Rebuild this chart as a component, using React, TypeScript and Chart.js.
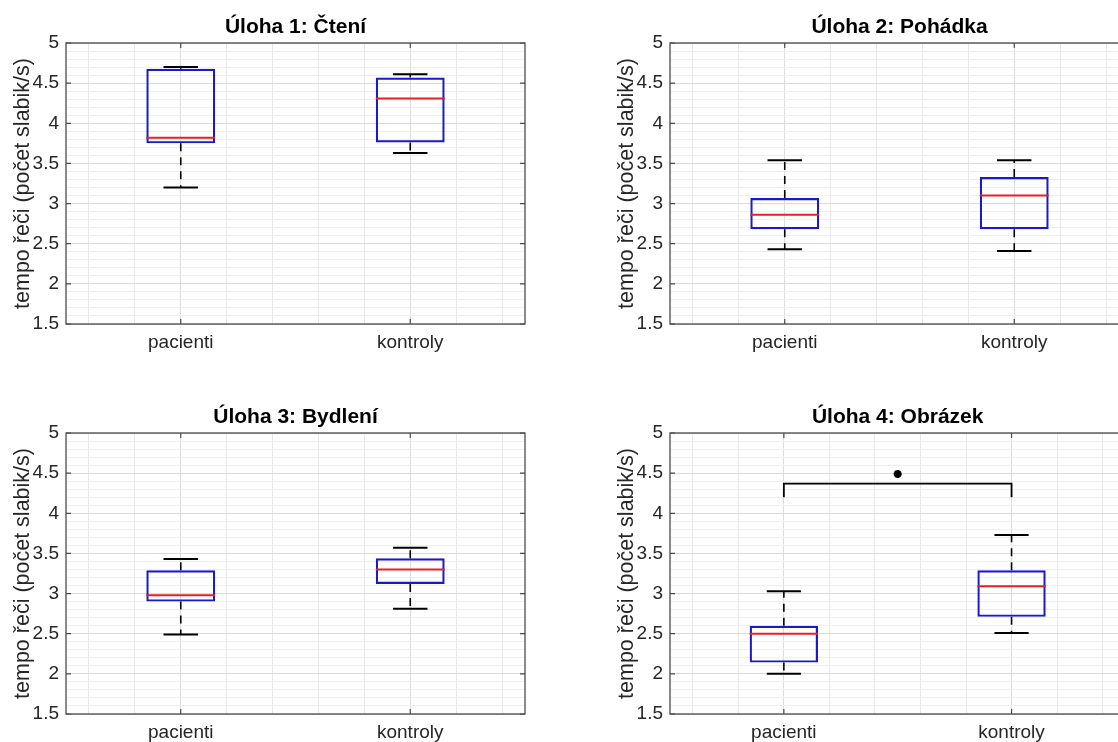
import React, { useEffect, useRef } from 'react';
import { Chart, registerables } from 'chart.js';

Chart.register(...registerables);

// ---------------- data ----------------
const groups = ['pacienti', 'kontroly'];
const groupPos = [1, 2];
const taskTitles = ['Úloha 1: Čtení', 'Úloha 2: Pohádka', 'Úloha 3: Bydlení', 'Úloha 4: Obrázek'];
const yAxisTitle = 'tempo řeči (počet slabik/s)';

// per task: [pacienti, kontroly]
const whiskerLow = [[3.2, 3.63], [2.43, 2.41], [2.49, 2.81], [2.0, 2.51]];
const quartile1 = [[3.75, 3.76], [2.68, 2.68], [2.9, 3.12], [2.14, 2.71]];
const medians = [[3.82, 4.31], [2.86, 3.1], [2.98, 3.3], [2.5, 3.09]];
const quartile3 = [[4.68, 4.57], [3.07, 3.33], [3.29, 3.44], [2.6, 3.29]];
const whiskerHigh = [[4.7, 4.61], [3.54, 3.54], [3.43, 3.57], [3.03, 3.73]];

// significance bracket (task 4)
const sigTask = 3;
const sigPair = [1, 2];
const sigLegY = 4.2;
const sigBarY = 4.37;
const sigStarY = 4.49;

const yMajorTicks = [1.5, 2, 2.5, 3, 3.5, 4, 4.5, 5];
const yTickLabels = ['1.5', '2', '2.5', '3', '3.5', '4', '4.5', '5'];
const xGridValues = [0.6, 0.8, 1.0, 1.2, 1.4, 1.6, 1.8, 2.0, 2.2, 2.4];

// ---------------- style ----------------
const BOX_HALF = 0.15;
const CAP_HALF = 0.075;
const BLUE = 'rgb(25,25,205)';
const RED = 'rgb(225,35,35)';
const AXIS = '#262626';
const FONT = "'Liberation Sans', Arial, Helvetica, sans-serif";

const panels = [
  { left: 0, top: 0, height: 380 },
  { left: 604, top: 0, height: 380 },
  { left: 0, top: 390, height: 352 },
  { left: 604, top: 390, height: 352 },
];
const CANVAS_W = 528;
const AREA_BOTTOM = 324;

const isMajor = (v: number) => yMajorTicks.some((m) => Math.abs(m - v) < 1e-6);
const tickVal = (ctx: any) => (ctx && ctx.tick ? Number(ctx.tick.value) : NaN);

const framePlugin = {
  id: 'frame',
  afterDraw(chart: any) {
    const { ctx, chartArea: a, scales } = chart;
    ctx.save();
    ctx.strokeStyle = '#4a4a4a';
    ctx.lineWidth = 1.3;
    ctx.strokeRect(a.left, a.top, a.right - a.left, a.bottom - a.top);
    ctx.lineWidth = 1.2;
    ctx.beginPath();
    yMajorTicks.forEach((v) => {
      const p = scales.y.getPixelForValue(v);
      ctx.moveTo(a.left, p);
      ctx.lineTo(a.left + 5, p);
      ctx.moveTo(a.right, p);
      ctx.lineTo(a.right - 5, p);
    });
    groups.forEach((_, i) => {
      const p = scales.x.getPixelForValue(i);
      ctx.moveTo(p, a.bottom);
      ctx.lineTo(p, a.bottom - 5);
      ctx.moveTo(p, a.top);
      ctx.lineTo(p, a.top + 5);
    });
    ctx.stroke();
    ctx.restore();
  },
};

function buildConfig(t: number, canvasHeight: number): any {
  const whiskerData: any[] = [];
  const capData: any[] = [];
  const medianData: any[] = [];
  groupPos.forEach((x, g) => {
    whiskerData.push(
      { x, y: quartile3[t][g] }, { x, y: whiskerHigh[t][g] }, { x, y: null },
      { x, y: quartile1[t][g] }, { x, y: whiskerLow[t][g] }, { x, y: null }
    );
    capData.push(
      { x: x - CAP_HALF, y: whiskerHigh[t][g] }, { x: x + CAP_HALF, y: whiskerHigh[t][g] }, { x, y: null },
      { x: x - CAP_HALF, y: whiskerLow[t][g] }, { x: x + CAP_HALF, y: whiskerLow[t][g] }, { x, y: null }
    );
    medianData.push(
      { x: x - BOX_HALF, y: medians[t][g] }, { x: x + BOX_HALF, y: medians[t][g] }, { x, y: null }
    );
  });

  const lineBase = {
    type: 'line',
    xAxisID: 'x2',
    yAxisID: 'y',
    pointRadius: 0,
    pointHoverRadius: 0,
    spanGaps: false,
    tension: 0,
    fill: false,
  };

  const datasets: any[] = [
    { ...lineBase, label: 'whiskers', data: whiskerData, borderColor: '#000', borderWidth: 1.6, borderDash: [8, 6], order: 5 },
    { ...lineBase, label: 'caps', data: capData, borderColor: '#000', borderWidth: 2, order: 4 },
    {
      type: 'bar',
      label: 'box',
      xAxisID: 'x',
      yAxisID: 'y',
      data: groups.map((_, g) => [quartile1[t][g], quartile3[t][g]]),
      backgroundColor: 'rgba(255,255,255,0)',
      borderColor: BLUE,
      borderWidth: 2.2,
      borderSkipped: false,
      grouped: false,
      barPercentage: BOX_HALF * 2,
      categoryPercentage: 1,
      order: 3,
    },
    { ...lineBase, label: 'median', data: medianData, borderColor: RED, borderWidth: 2, order: 2 },
  ];

  if (t === sigTask) {
    datasets.push({
      ...lineBase,
      label: 'bracket',
      data: [
        { x: sigPair[0], y: sigLegY },
        { x: sigPair[0], y: sigBarY },
        { x: sigPair[1], y: sigBarY },
        { x: sigPair[1], y: sigLegY },
      ],
      borderColor: '#000',
      borderWidth: 1.8,
      order: 1,
    });
    datasets.push({
      ...lineBase,
      label: 'star',
      showLine: false,
      data: [{ x: (sigPair[0] + sigPair[1]) / 2, y: sigStarY }],
      pointStyle: 'star',
      pointRadius: 4,
      pointBorderWidth: 2.6,
      pointBorderColor: '#000',
      pointBackgroundColor: '#000',
      order: 0,
    });
  }

  return {
    type: 'bar',
    data: { labels: groups, datasets },
    plugins: [framePlugin],
    options: {
      animation: false,
      responsive: false,
      devicePixelRatio: 1,
      layout: { padding: { left: 0, right: 3, top: 0, bottom: 0 } },
      font: { family: FONT },
      plugins: {
        legend: { display: false },
        tooltip: { enabled: false },
        title: {
          display: true,
          fullSize: false,
          text: taskTitles[t],
          color: '#000',
          font: { family: FONT, size: 21, weight: 'bold', lineHeight: 1.2 },
          padding: { top: 15, bottom: 2.8 },
        },
      },
      scales: {
        x: {
          type: 'category',
          labels: groups,
          offset: true,
          position: 'bottom',
          grid: { display: false, drawTicks: false },
          border: { display: false },
          ticks: { color: AXIS, font: { family: FONT, size: 19, lineHeight: 1.2 }, padding: 7, maxRotation: 0, autoSkip: false },
          afterFit: (s: any) => { s.height = canvasHeight - AREA_BOTTOM; },
        },
        x2: {
          type: 'linear',
          position: 'bottom',
          min: 0.5,
          max: 2.5,
          offset: false,
          display: true,
          ticks: { display: false },
          grid: {
            offset: false,
            drawTicks: false,
            color: (ctx: any) => {
              const v = tickVal(ctx);
              return groupPos.some((p) => Math.abs(p - v) < 1e-6) ? '#dcdcdc' : '#e8e8e8';
            },
            lineWidth: 1,
          },
          border: { display: false },
          afterBuildTicks: (s: any) => { s.ticks = xGridValues.map((value) => ({ value })); },
          afterFit: (s: any) => { s.height = 0; },
        },
        y: {
          type: 'linear',
          min: 1.5,
          max: 5,
          grid: {
            drawTicks: false,
            color: (ctx: any) => (isMajor(tickVal(ctx)) ? '#dadada' : '#efefef'),
            lineWidth: 1,
          },
          border: { display: false },
          ticks: {
            stepSize: 0.1,
            maxTicksLimit: 60,
            autoSkip: false,
            padding: 7,
            color: AXIS,
            font: { family: FONT, size: 19, lineHeight: 1.2 },
            callback: (value: any) => {
              const i = yMajorTicks.findIndex((m) => Math.abs(m - Number(value)) < 1e-6);
              return i >= 0 ? yTickLabels[i] : '';
            },
          },
          title: {
            display: true,
            text: yAxisTitle,
            color: AXIS,
            font: { family: FONT, size: 21.5, lineHeight: 1.2 },
            padding: { top: 10, bottom: 0 },
          },
          afterFit: (s: any) => { s.width = 66; },
        },
      },
    },
  };
}

function Panel({ index, left, top, height }: { index: number; left: number; top: number; height: number }) {
  const ref = useRef<HTMLCanvasElement | null>(null);
  useEffect(() => {
    if (!ref.current) return;
    const chart = new Chart(ref.current, buildConfig(index, height));
    return () => chart.destroy();
  }, [index, height]);
  return (
    <canvas
      ref={ref}
      width={CANVAS_W}
      height={height}
      style={{ position: 'absolute', left, top, width: CANVAS_W, height }}
    />
  );
}

export default function App() {
  return (
    <div
      style={{
        position: 'fixed',
        left: 0,
        top: 0,
        width: 1118,
        height: 742,
        overflow: 'hidden',
        background: '#ffffff',
      }}
    >
      {panels.map((p, i) => (
        <Panel key={i} index={i} left={p.left} top={p.top} height={p.height} />
      ))}
    </div>
  );
}
